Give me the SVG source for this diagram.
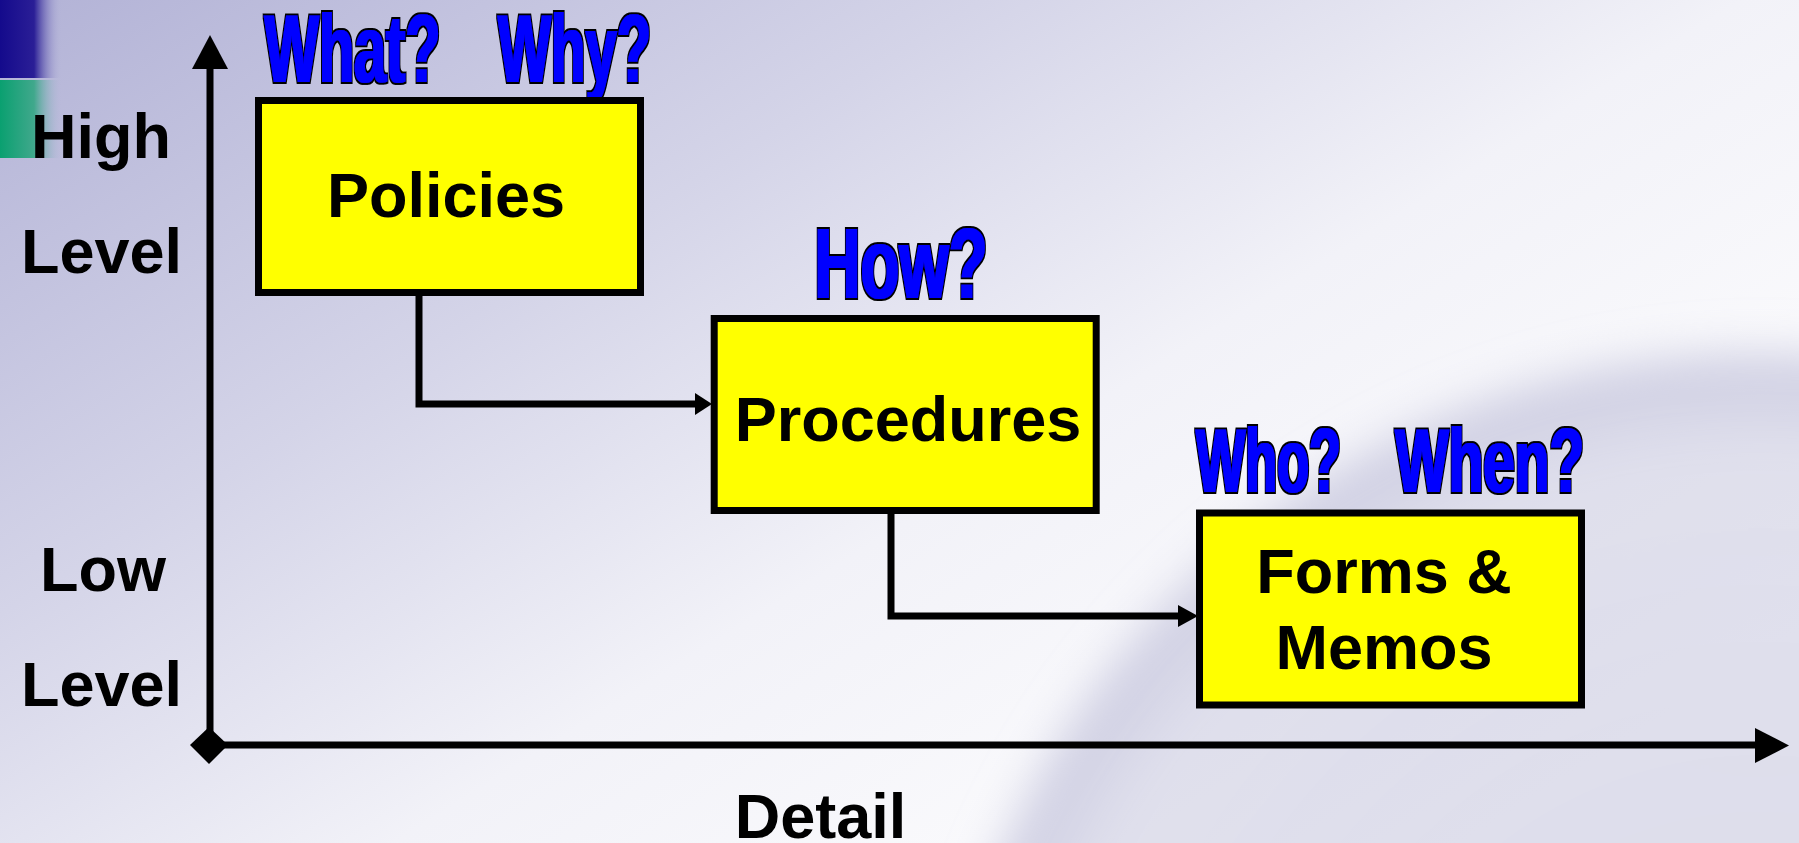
<svg xmlns="http://www.w3.org/2000/svg" width="1799" height="843" viewBox="0 0 1799 843">
<defs>
<linearGradient id="bg" x1="0" y1="0" x2="1" y2="0.75">
<stop offset="0" stop-color="#b2b2d6"/>
<stop offset="0.35" stop-color="#d4d4e8"/>
<stop offset="0.62" stop-color="#f2f2f8"/>
<stop offset="1" stop-color="#ffffff"/>
</linearGradient>
<radialGradient id="globe" cx="1760" cy="1180" r="850" gradientUnits="userSpaceOnUse">
<stop offset="0" stop-color="#c0c0da" stop-opacity="0.6"/>
<stop offset="0.85" stop-color="#cacae0" stop-opacity="0.55"/>
<stop offset="0.95" stop-color="#bebed8" stop-opacity="0.7"/>
<stop offset="1" stop-color="#d0d0e4" stop-opacity="0"/>
</radialGradient>
<filter id="soft" x="-10%" y="-10%" width="120%" height="120%">
<feGaussianBlur stdDeviation="18"/>
</filter>
<linearGradient id="navy" x1="0" y1="0" x2="1" y2="0">
<stop offset="0" stop-color="#140a8c"/>
<stop offset="0.55" stop-color="#2a1e96"/>
<stop offset="1" stop-color="#b8b8dc" stop-opacity="0"/>
</linearGradient>
<linearGradient id="green" x1="0" y1="0" x2="1" y2="0">
<stop offset="0" stop-color="#0aa070"/>
<stop offset="0.55" stop-color="#40a88c"/>
<stop offset="1" stop-color="#b8b8dc" stop-opacity="0"/>
</linearGradient>
<filter id="heavy" x="-5%" y="-10%" width="110%" height="125%">
<feMorphology in="SourceAlpha" operator="dilate" radius="2.4 1.8" result="outer"/>
<feFlood flood-color="#000000"/>
<feComposite in2="outer" operator="in" result="black"/>
<feMorphology in="SourceAlpha" operator="dilate" radius="0.9 0.4" result="inner"/>
<feFlood flood-color="#0000ff"/>
<feComposite in2="inner" operator="in" result="blue"/>
<feMerge><feMergeNode in="black"/><feMergeNode in="blue"/></feMerge>
</filter>
<style>
.box{fill:#ffff00;stroke:#000;stroke-width:7}
.lbl{font-family:"Liberation Sans",Arial,sans-serif;font-weight:bold;font-size:63px;fill:#000;text-anchor:middle}
.q{font-family:"Liberation Sans",Arial,sans-serif;font-weight:bold;fill:#0000ff;filter:url(#heavy)}
.ax{stroke:#000;stroke-width:7;fill:none}
.cn{stroke:#000;stroke-width:7;fill:none}
</style>
</defs>
<rect x="0" y="0" width="1799" height="843" fill="url(#bg)"/>
<circle cx="1760" cy="1180" r="850" fill="url(#globe)" filter="url(#soft)"/>
<rect x="0" y="0" width="62" height="78" fill="url(#navy)"/>
<rect x="0" y="80" width="62" height="78" fill="url(#green)"/>

<g id="axes">
<line class="ax" x1="210" y1="745" x2="210" y2="66"/>
<polygon points="210,35 192,69 228,69" fill="#000"/>
<line class="ax" x1="209" y1="745" x2="1757" y2="745"/>
<polygon points="1789,745.5 1755,728 1755,763" fill="#000"/>
<polygon points="209,727 228,745 209,764 190,745" fill="#000"/>
</g>

<g id="axis-labels">
<text class="lbl" x="101" y="158">High</text>
<text class="lbl" x="101.5" y="273">Level</text>
<text class="lbl" x="103" y="591">Low</text>
<text class="lbl" x="101.5" y="706">Level</text>
<text class="lbl" x="820.5" y="838">Detail</text>
</g>

<g id="connectors">
<path class="cn" d="M419,296 V404 H697"/>
<polygon points="712,404 695,393 695,415" fill="#000"/>
<path class="cn" d="M891,514 V616 H1181"/>
<polygon points="1198,616 1178,605 1178,627" fill="#000"/>
</g>

<g id="policies">
<text class="q" font-size="97" xml:space="preserve" y="82"><tspan x="264.5" textLength="176" lengthAdjust="spacingAndGlyphs">What?</tspan>  <tspan x="498" textLength="153" lengthAdjust="spacingAndGlyphs">Why?</tspan></text>
<rect class="box" x="258.5" y="100.5" width="382" height="192"/>
<text class="lbl" x="446" y="217">Policies</text>
</g>

<g id="procedures">
<text class="q" font-size="101" x="814.5" y="298" textLength="173" lengthAdjust="spacingAndGlyphs">How?</text>
<rect class="box" x="714.2" y="318.5" width="382" height="192"/>
<text class="lbl" x="908" y="440.7">Procedures</text>
</g>

<g id="forms">
<text class="q" font-size="90" xml:space="preserve" y="492"><tspan x="1196" textLength="145" lengthAdjust="spacingAndGlyphs">Who?</tspan>  <tspan x="1395.3" textLength="188.7" lengthAdjust="spacingAndGlyphs">When?</tspan></text>
<rect class="box" x="1199.5" y="513" width="382" height="192"/>
<text class="lbl" x="1384" y="592.7">Forms &amp;</text>
<text class="lbl" x="1384" y="669.3">Memos</text>
</g>
</svg>
